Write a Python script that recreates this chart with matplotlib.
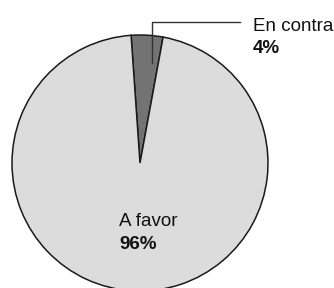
import matplotlib
matplotlib.use("Agg")
import matplotlib.pyplot as plt

labels = ["En contra", "A favor"]
values = [4, 96]
pct_labels = ["4%", "96%"]
colors = ["#737373", "#dcdcdc"]

W, H = 334, 288
fig = plt.figure(figsize=(W / 100, H / 100), dpi=100)
ax = fig.add_axes([0, 0, 1, 1])

def py(y):
    return H - y

ax.pie(values, colors=colors, startangle=94, counterclock=False,
       center=(140, py(163)), radius=128,
       wedgeprops=dict(edgecolor="#1a1a1a", linewidth=1.1))
ax.set_xlim(0, W)
ax.set_ylim(0, H)
ax.set_aspect("equal")
ax.axis("off")

font = "Liberation Sans"
fs = 13.5
# leader line for "En contra"
ax.plot([152, 152, 240], [py(63), py(22), py(22)], color="#333333", lw=1.0)
ax.text(253, py(31), labels[0], fontsize=fs, family=font, va="baseline", ha="left", color="#111111")
ax.text(253, py(53), pct_labels[0], fontsize=fs, family=font, fontweight="bold", va="baseline", ha="left", color="#111111")

ax.text(119, py(226), labels[1], fontsize=fs, family=font, va="baseline", ha="left", color="#111111")
ax.text(119, py(249), pct_labels[1], fontsize=fs, family=font, fontweight="bold", va="baseline", ha="left", color="#111111")

fig.savefig("out.png", dpi=100)
